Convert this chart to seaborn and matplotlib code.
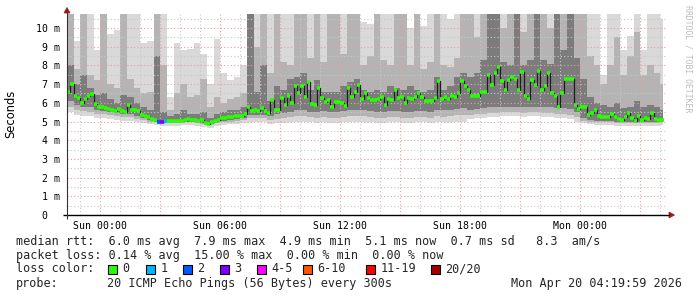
import numpy as np
import pandas as pd
import matplotlib
matplotlib.use("Agg")
import matplotlib.pyplot as plt
from matplotlib.patches import Polygon, Rectangle
import seaborn as sns

# ------------------------------------------------------------------ data
# time axis: minutes since Sat 22:20 (graph spans 30 h, ends Mon 04:20)
MED_STEP = 10
SMOKE_STEP = 20
DATA_END = 1788

median_ms = [
    6.6, 7.0, 6.35, 6.25, 6.0, 6.2, 6.35, 6.45, 5.95, 5.8,
    5.75, 5.7, 5.65, 5.6, 5.55, 5.65, 5.55, 5.5, 5.9, 5.6,
    5.6, 5.55, 5.35, 5.3, 5.25, 5.15, 5.1, 5.0, 5.0, 5.05,
    5.05, 5.05, 5.05, 5.05, 5.05, 5.1, 5.15, 5.1, 5.1, 5.05,
    5.1, 4.9, 4.85, 4.95, 5.05, 5.1, 5.2, 5.2, 5.25, 5.25,
    5.3, 5.3, 5.3, 5.4, 5.8, 5.55, 5.6, 5.55, 5.7, 5.55,
    5.45, 6.15, 5.6, 5.6, 6.25, 5.9, 6.35, 6.0, 6.9, 6.5,
    6.9, 6.3, 7.1, 5.95, 5.9, 6.8, 6.25, 6.05, 6.15, 5.8,
    6.05, 6.05, 6.0, 5.85, 6.8, 6.3, 6.6, 6.95, 6.2, 6.5,
    6.25, 6.15, 6.15, 6.2, 6.3, 5.9, 6.2, 6.15, 6.7, 6.25,
    6.3, 6.0, 6.25, 6.2, 6.3, 6.55, 6.3, 6.1, 6.1, 6.1,
    6.25, 7.15, 6.2, 6.3, 6.2, 6.35, 6.3, 6.5, 7.15, 6.9,
    6.7, 6.35, 6.35, 6.35, 6.6, 6.6, 7.5, 6.95, 7.6, 7.9,
    7.15, 6.7, 7.2, 7.4, 7.25, 6.7, 7.65, 6.35, 6.2, 7.2,
    6.95, 7.7, 6.7, 6.9, 7.6, 6.55, 6.35, 5.8, 6.55, 7.3,
    7.3, 7.3, 5.9, 5.65, 5.75, 5.8, 5.35, 5.45, 5.6, 5.3,
    5.25, 5.25, 5.25, 5.4, 5.25, 5.15, 5.1, 5.25, 5.45, 5.2,
    5.05, 5.3, 5.1, 5.2, 5.15, 5.45, 5.15, 5.1, 5.1,
]

loss_pings = [0] * 27 + [2, 3, 1] + [0] * 149

smoke_max = [
    11, 9.3, 11, 11, 8.8, 11, 9.7, 9.9, 11, 11,
    11, 9.2, 9.3, 11, 11, 6.3, 9.2, 8.8, 8.9, 9.2,
    8.6, 7.0, 9.4, 7.6, 7.2, 7.4, 8.0, 11, 11, 11,
    11, 11, 11, 11, 11, 11, 11, 11, 11, 11,
    11, 11, 11, 11, 10.3, 10.2, 11, 11, 11, 11,
    11, 10.0, 9.8, 10.1, 11, 11, 11, 10.5, 11, 11,
    11, 11, 11, 11, 11, 11, 11, 11, 11, 11,
    11, 11, 11, 11, 11, 11, 11, 11, 11, 11,
    7.5, 11, 11, 8.8, 9.6, 11, 8.8, 11, 11, 10.5,
]
smoke_hi2 = [
    11, 7.8, 11, 7.5, 7.2, 11, 7.0, 6.8, 11, 7.3,
    6.8, 6.5, 6.6, 11, 8.0, 5.6, 6.5, 7.0, 6.3, 6.4,
    7.3, 5.8, 6.3, 6.0, 6.2, 6.3, 6.5, 11, 9.0, 11,
    7.6, 11, 8.2, 8.0, 11, 11, 8.4, 11, 8.2, 11,
    11, 8.6, 11, 11, 8.0, 8.5, 11, 8.3, 8.0, 11,
    11, 8.0, 11, 7.8, 8.2, 11, 8.0, 7.9, 8.4, 11,
    11, 9.5, 11, 11, 11, 10.0, 11, 11, 9.8, 11,
    11, 11, 10.0, 11, 11, 11, 11, 11, 8.5, 8.0,
    7.0, 8.0, 9.5, 7.5, 8.5, 9.8, 7.5, 8.0, 7.6, 7.0,
]
smoke_hi3 = [
    8.0, 7.0, 7.5, 6.8, 6.4, 6.5, 6.2, 6.0, 6.4, 6.3,
    6.0, 5.8, 5.6, 8.5, 5.5, 5.3, 5.4, 5.6, 5.4, 5.4,
    5.5, 5.2, 5.4, 5.5, 5.6, 5.6, 5.8, 11, 6.6, 8.0,
    6.1, 6.9, 6.7, 7.3, 7.4, 7.6, 6.7, 7.2, 6.6, 6.6,
    6.6, 6.9, 7.1, 7.3, 6.7, 6.6, 6.7, 6.6, 6.9, 6.8,
    6.7, 6.9, 6.7, 6.6, 6.7, 7.4, 6.7, 6.9, 7.4, 7.6,
    7.4, 7.6, 8.3, 11, 11, 8.2, 8.0, 11, 8.0, 8.3,
    11, 8.3, 8.1, 11, 8.8, 11, 8.4, 7.3, 6.3, 6.0,
    5.9, 5.8, 6.0, 5.7, 5.8, 6.1, 5.8, 5.9, 5.8, 5.6,
]
smoke_lo3 = [
    6.1, 5.9, 5.8, 5.75, 5.6, 5.55, 5.5, 5.45, 5.4, 5.4,
    5.3, 5.2, 5.1, 5.0, 4.95, 4.95, 5.0, 5.0, 5.0, 4.95,
    4.9, 4.85, 4.95, 5.05, 5.1, 5.15, 5.2, 5.35, 5.35, 5.35,
    5.3, 5.4, 5.45, 5.5, 5.6, 5.6, 5.5, 5.5, 5.55, 5.5,
    5.5, 5.55, 5.6, 5.6, 5.6, 5.55, 5.5, 5.5, 5.55, 5.55,
    5.5, 5.5, 5.55, 5.55, 5.5, 5.6, 5.6, 5.6, 5.65, 5.7,
    5.6, 5.65, 5.7, 5.75, 5.75, 5.8, 5.8, 5.8, 5.75, 5.8,
    5.8, 5.75, 5.75, 5.7, 5.7, 5.65, 5.5, 5.2, 5.1, 5.05,
    5.05, 5.05, 5.0, 5.0, 5.0, 5.0, 5.0, 5.0, 5.0, 5.0,
]
smoke_lo2 = [
    5.8, 5.6, 5.55, 5.5, 5.4, 5.4, 5.35, 5.3, 5.25, 5.25,
    5.15, 5.1, 5.0, 4.95, 4.9, 4.9, 4.9, 4.95, 4.95, 4.9,
    4.85, 4.8, 4.9, 4.95, 5.0, 5.05, 5.1, 5.2, 5.2, 5.2,
    5.1, 5.15, 5.2, 5.25, 5.3, 5.3, 5.25, 5.2, 5.25, 5.2,
    5.2, 5.25, 5.3, 5.3, 5.3, 5.25, 5.2, 5.2, 5.25, 5.25,
    5.2, 5.2, 5.25, 5.25, 5.2, 5.3, 5.25, 5.3, 5.35, 5.35,
    5.35, 5.4, 5.4, 5.45, 5.45, 5.5, 5.5, 5.5, 5.45, 5.5,
    5.5, 5.45, 5.45, 5.4, 5.4, 5.35, 5.25, 5.05, 5.0, 4.95,
    4.95, 4.95, 4.9, 4.9, 4.9, 4.9, 4.9, 4.9, 4.9, 4.95,
]
smoke_min = [
    5.5, 5.35, 5.3, 5.3, 5.2, 5.2, 5.15, 5.1, 5.05, 5.05,
    4.95, 4.9, 4.85, 4.8, 4.75, 4.75, 4.75, 4.8, 4.8, 4.75,
    4.7, 4.65, 4.75, 4.8, 4.85, 4.85, 4.9, 4.95, 5.0, 5.0,
    4.85, 4.9, 4.9, 4.95, 5.0, 5.0, 4.95, 4.9, 4.95, 4.9,
    4.9, 4.95, 5.0, 5.0, 5.0, 4.95, 4.9, 4.9, 4.95, 4.95,
    4.9, 4.9, 4.95, 4.95, 4.9, 5.0, 4.95, 4.95, 5.0, 5.0,
    5.15, 5.2, 5.2, 5.25, 5.25, 5.3, 5.3, 5.3, 5.25, 5.3,
    5.3, 5.25, 5.25, 5.2, 5.2, 5.15, 5.0, 4.9, 4.85, 4.8,
    4.8, 4.8, 4.75, 4.75, 4.75, 4.75, 4.75, 4.75, 4.75, 4.8,
]

loss_labels = ["0", "1", "2", "3", "4-5", "6-10", "11-19", "20/20"]
loss_colors = ["#26ff00", "#00b8ff", "#0059ff", "#7e00ff",
               "#ff00ff", "#ff5500", "#ff0000", "#a10000"]

x_tick_pos = [100, 460, 820, 1180, 1540]
x_tick_labels = ["Sun 00:00", "Sun 06:00", "Sun 12:00", "Sun 18:00", "Mon 00:00"]
y_tick_vals = list(range(11))
y_tick_labels = ["0  "] + [f"{v} m" for v in range(1, 11)]

legend_line1 = "median rtt:  6.0 ms avg  7.9 ms max  4.9 ms min  5.1 ms now  0.7 ms sd   8.3  am/s"
legend_line2 = "packet loss: 0.14 % avg  15.00 % max  0.00 % min  0.00 % now"
probe_text = "20 ICMP Echo Pings (56 Bytes) every 300s"
stamp_text = "Mon Apr 20 04:19:59 2026"

# ------------------------------------------------------------------ figure
sns.set_theme(style="white")
plt.rcParams['font.family'] = ['DejaVu Sans']
MONO = 'DejaVu Sans Mono'

W, H = 697, 297
fig = plt.figure(figsize=(W / 100, H / 100), dpi=100, facecolor='white')
ax = fig.add_axes([67 / W, 82 / H, 600 / W, 201 / H])
ax.set_facecolor('white')
ax.set_xlim(0, 1800)
ax.set_ylim(0, 10.75)
for s in ax.spines.values():
    s.set_visible(False)

# smoke
t_smoke = np.arange(len(smoke_max)) * SMOKE_STEP
t_edge = np.append(t_smoke, DATA_END)
ext = lambda a: np.append(np.asarray(a, float), a[-1])
layers = [(smoke_min, smoke_max, '#d9d9d9'),
          (smoke_lo2, smoke_hi2, '#b4b4b4'),
          (smoke_lo3, smoke_hi3, '#7c7c7c')]
for i, (lo, hi, col) in enumerate(layers):
    ax.fill_between(t_edge, ext(lo), ext(hi), step='post', color=col,
                    linewidth=0, zorder=1 + i)

# grid (drawn over smoke)
dot = (0, (1, 2))
for v in np.arange(0.5, 10.75, 0.5):
    if abs(v - round(v)) < 1e-6:
        ax.axhline(v, color='#e9a0a0', lw=0.8, ls=dot, zorder=4)
    else:
        ax.axhline(v, color='#c8c8c8', lw=0.8, ls=dot, zorder=4)
major_t = set(range(100, 1800, 180))
for tt in range(40, 1800, 60):
    if tt in major_t:
        ax.axvline(tt, color='#e9a0a0', lw=0.8, ls=dot, zorder=4)
    else:
        ax.axvline(tt, color='#c8c8c8', lw=0.8, ls=dot, zorder=4)

# median: dark step line + loss-coloured bars
t_med = np.arange(len(median_ms)) * MED_STEP
df = pd.DataFrame({'t': t_med, 'median': median_ms})
sns.lineplot(data=df, x='t', y='median', drawstyle='steps-post',
             color='#1e1e1e', linewidth=0.9, estimator=None, ax=ax, zorder=5)


def loss_index(n):
    if n <= 3:
        return n
    if n <= 5:
        return 4
    if n <= 10:
        return 5
    if n <= 19:
        return 6
    return 7


bar_cols = [loss_colors[loss_index(n)] for n in loss_pings]
ax.hlines(median_ms, t_med, t_med + MED_STEP, colors=bar_cols,
          linewidth=2.6, zorder=6, capstyle='butt')

# ticks
ax.set_xticks(x_tick_pos)
ax.set_xticklabels(x_tick_labels, fontfamily=MONO, fontsize=7.1)
ax.set_yticks(y_tick_vals)
ax.set_yticklabels(y_tick_labels, fontfamily=MONO, fontsize=7.1)
ax.tick_params(axis='both', length=0, colors='black')
ax.tick_params(axis='x', pad=4)
ax.tick_params(axis='y', pad=5)
ax.set_xlabel('')
ax.set_ylabel('')

# ------------------------------------------------------------------ overlay in pixel coords
ov = fig.add_axes([0, 0, 1, 1], zorder=10)
ov.set_xlim(0, W)
ov.set_ylim(H, 0)
ov.axis('off')
ov.patch.set_alpha(0)

# axes lines and arrows
ov.plot([63, 669], [215, 215], color='black', lw=1.0, solid_capstyle='butt')
ov.plot([67, 67], [219, 12], color='#333333', lw=0.8, solid_capstyle='butt')
ov.add_patch(Polygon([[669, 212], [669, 218], [674.5, 215]], closed=True,
                     facecolor='#9b1b1b', edgecolor='#9b1b1b', lw=0.5))
ov.add_patch(Polygon([[64, 13], [70, 13], [67, 7.5]], closed=True,
                     facecolor='#9b1b1b', edgecolor='#9b1b1b', lw=0.5))

# y label and watermark
ov.text(11, 114, 'Seconds', rotation=90, ha='center', va='center',
        fontsize=8.3, color='black')
ov.text(688, 5, 'RRDTOOL / TOBI OETIKER', rotation=270, ha='center', va='top',
        fontsize=5.9, family=MONO, color='#bdbdbd')

# legend text
LF = 8.5
ov.text(16, 241, legend_line1, family=MONO, fontsize=LF, va='center', ha='left')
ov.text(16, 255, legend_line2, family=MONO, fontsize=LF, va='center', ha='left')
ov.text(16, 269, 'loss color:', family=MONO, fontsize=LF, va='center', ha='left')
sq_x = [108, 146, 183, 220, 257, 303, 366, 431]
for xs, lab, col in zip(sq_x, loss_labels, loss_colors):
    ov.add_patch(Rectangle((xs, 264.5), 9, 9, facecolor=col, edgecolor='black', lw=0.8))
    ov.text(xs + 14.5, 269, lab, family=MONO, fontsize=LF, va='center', ha='left')
ov.text(16, 283.5, 'probe:', family=MONO, fontsize=LF, va='center', ha='left')
ov.text(107, 283.5, probe_text, family=MONO, fontsize=LF, va='center', ha='left')
ov.text(682, 283.5, stamp_text, family=MONO, fontsize=LF, va='center', ha='right')

fig.savefig('out.png', dpi=100, facecolor='white')
